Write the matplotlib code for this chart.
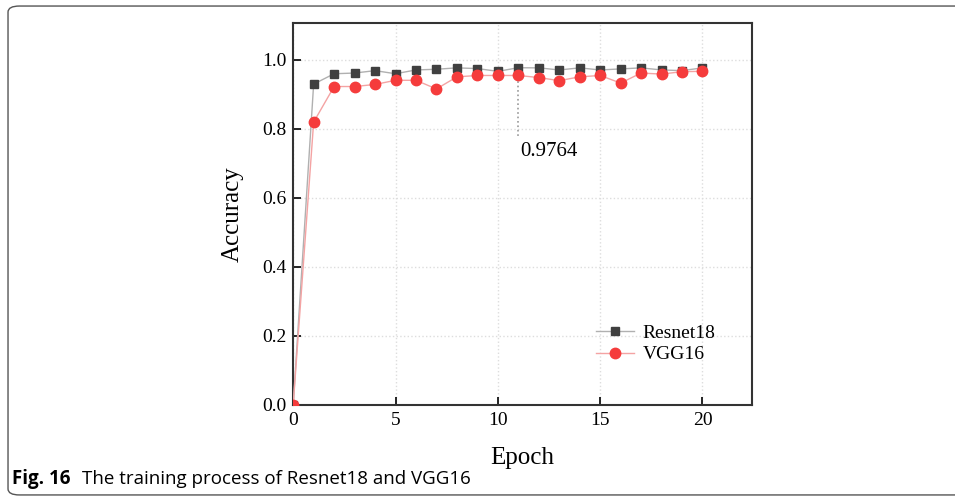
import matplotlib.pyplot as plt
from matplotlib.patches import FancyBboxPatch

epochs = list(range(21))
resnet18 = [0.0, 0.929, 0.959, 0.961, 0.968, 0.959, 0.970, 0.972, 0.976, 0.974, 0.966,
            0.9764, 0.976, 0.970, 0.976, 0.970, 0.973, 0.976, 0.970, 0.968, 0.976]
vgg16 = [0.0, 0.819, 0.922, 0.922, 0.928, 0.940, 0.940, 0.915, 0.950, 0.954, 0.954,
         0.954, 0.948, 0.939, 0.950, 0.954, 0.932, 0.961, 0.958, 0.965, 0.966]
peak_epoch = 11
peak_value = 0.9764

serif = ["Liberation Serif", "DejaVu Serif"]

fig = plt.figure(figsize=(9.55, 5.03), dpi=100)

# rounded frame around the whole figure
frame = FancyBboxPatch((0.0084, 0.016), 1.05, 0.972, boxstyle="round,pad=0,rounding_size=0.012",
                       transform=fig.transFigure, fill=False, edgecolor="#555555", linewidth=1.0)
fig.patches.append(frame)

ax = fig.add_axes([0.307, 0.195, 0.480, 0.760])

ax.plot(epochs, resnet18, color="#b0b0b0", linewidth=1.0, marker="s", markersize=6,
        markerfacecolor="#404040", markeredgecolor="#404040", label="Resnet18", zorder=3)
ax.plot(epochs, vgg16, color="#f4a3a3", linewidth=1.0, marker="o", markersize=7.5,
        markerfacecolor="#f53c3c", markeredgecolor="#f53c3c", label="VGG16", zorder=4)

# marker for the best value
ax.plot([peak_epoch, peak_epoch], [peak_value, 0.78], color="#999999", linestyle=":", linewidth=1.2, zorder=2)
ax.text(peak_epoch + 0.1, 0.735, "0.9764", fontsize=15, family=serif, ha="left", va="center")

ax.set_xlim(0, 22.4)
ax.set_ylim(0, 1.107)
ax.set_xticks([0, 5, 10, 15, 20])
ax.set_yticks([0.0, 0.2, 0.4, 0.6, 0.8, 1.0])
ax.set_yticklabels(["0.0", "0.2", "0.4", "0.6", "0.8", "1.0"])
ax.tick_params(direction="in", length=6, width=1.2, labelsize=14, pad=5)
for lab in ax.get_xticklabels() + ax.get_yticklabels():
    lab.set_family(serif)
for sp in ax.spines.values():
    sp.set_linewidth(1.5)
    sp.set_color("#333333")
ax.grid(True, color="#dddddd", linestyle=":", linewidth=1.0)

ax.set_xlabel("Epoch", fontsize=18, family=serif, labelpad=13)
ax.set_ylabel("Accuracy", fontsize=18, family=serif, labelpad=13)

ax.legend(loc="center left", bbox_to_anchor=(0.66, 0.16), frameon=False, borderaxespad=0, borderpad=0,
          prop={"family": serif, "size": 14}, handlelength=1.96, handletextpad=0.46, labelspacing=0.2)

fig.text(0.013, 0.038, "Fig. 16", fontsize=13.5, fontweight="bold", family="Open Sans", ha="left", va="baseline")
fig.text(0.086, 0.038, "The training process of Resnet18 and VGG16", fontsize=13.5, family="Open Sans",
         ha="left", va="baseline")

fig.savefig("out.png", dpi=100)
